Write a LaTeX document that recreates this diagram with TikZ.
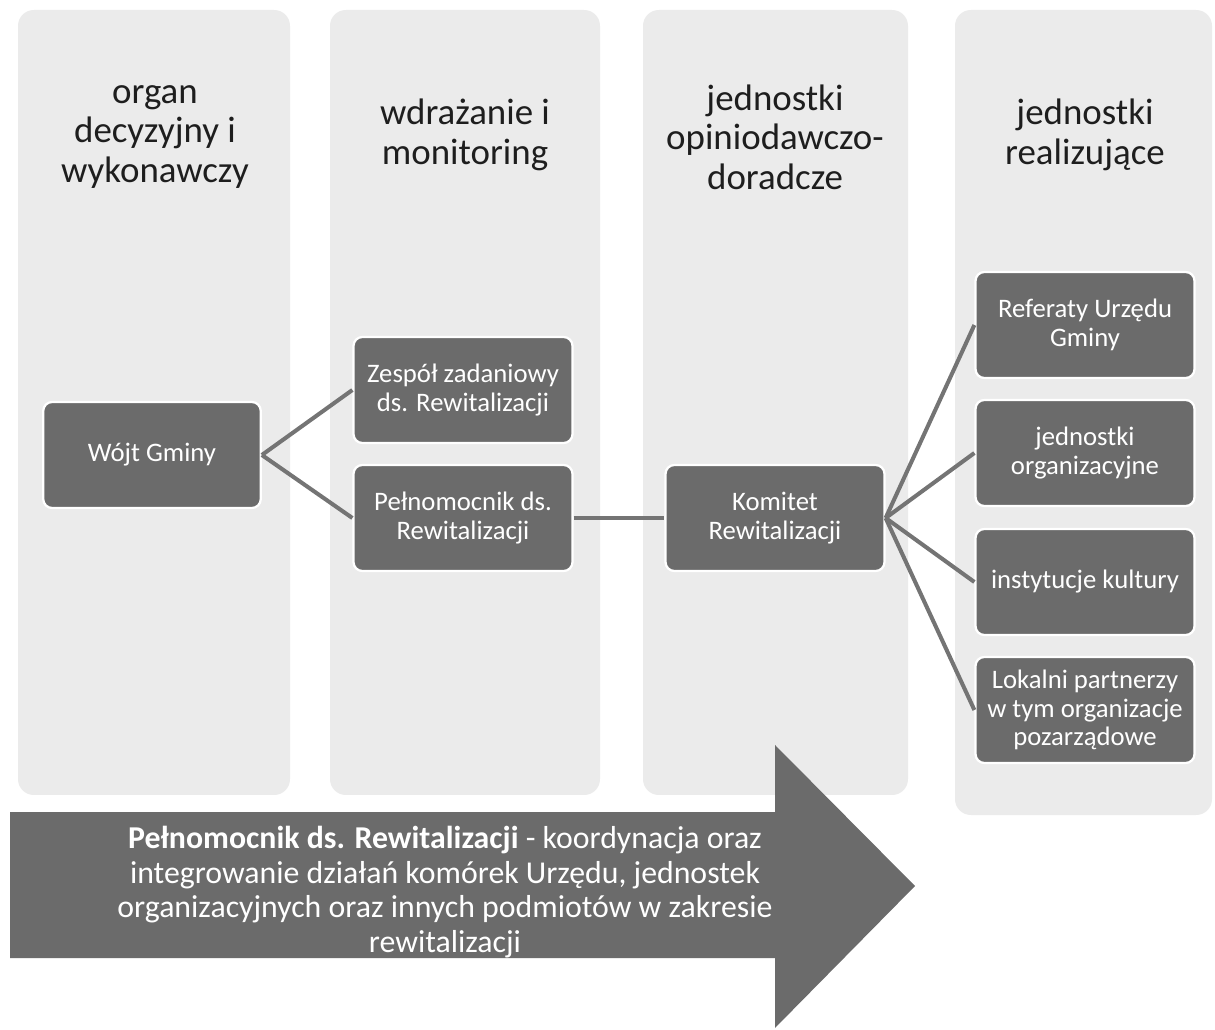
\documentclass[tikz,border=0pt]{standalone}
\usepackage{fontspec}
\setmainfont{Carlito}
\usepackage{tikz}
\usepackage{xcolor}
\definecolor{panelgray}{HTML}{EBEBEB}
\definecolor{boxgray}{HTML}{6B6B6B}
\definecolor{linegray}{HTML}{747474}
\definecolor{headgray}{HTML}{1E1E1E}

\begin{document}
\begin{tikzpicture}[x=0.02cm, y=-0.02cm,
  panel/.style={fill=panelgray, rounded corners=9pt},
  head/.style={align=center, text=headgray, font=\fontsize{21}{22.4}\selectfont},
  unit/.style={rectangle, rounded corners=5pt, fill=boxgray, draw=white, line width=1.3pt,
    minimum width=4.38cm, minimum height=2.12cm, align=center, text=white,
    font=\fontsize{15.2}{16.3}\selectfont},
  link/.style={draw=linegray, line width=2.3pt}]
\useasboundingbox (0,0) rectangle (1215,1030);

% Columns (background)
\fill[panel] (18,10) rectangle (290,795);
\fill[panel] (330,10) rectangle (600,795);
\fill[panel] (643,10) rectangle (908,795);
\fill[panel] (955,10) rectangle (1212,815);

% Column headers
\node[head] (hOrgan) at (155,137) {organ\\decyzyjny i\\wykonawczy};
\node[head] (hWdraz) at (465,135) {wdrażanie i\\monitoring};
\node[head] (hOpin) at (775,137) {jednostki\\opiniodawczo-\\doradcze};
\node[head] (hReal) at (1085,135) {jednostki\\realizujące};

% Boxes
\node[unit, minimum width=4.35cm] (wojt) at (152,455) {Wójt Gminy};
\node[unit] (zespol) at (463,390) {Zespół zadaniowy\\ds. Rewitalizacji};
\node[unit] (pelnom) at (463,518) {Pełnomocnik ds.\\Rewitalizacji};
\node[unit] (komitet) at (775,518) {Komitet\\Rewitalizacji};
\node[unit] (referaty) at (1085,325) {Referaty Urzędu\\Gminy};
\node[unit] (jednostki) at (1085,453) {jednostki\\organizacyjne};
\node[unit] (kultura) at (1085,582) {instytucje kultury};
\node[unit] (partnerzy) at (1085,710) {Lokalni partnerzy\\w tym organizacje\\pozarządowe};

% Connectors
\draw[link] (wojt.east) -- (zespol.west);
\draw[link] (wojt.east) -- (pelnom.west);
\draw[link] (pelnom.east) -- (komitet.west);
\foreach \t in {referaty, jednostki, kultura, partnerzy}
  \draw[link] (komitet.east) -- (\t.west);

% Big arrow
\fill[boxgray] (10,812) -- (775,812) -- (775,745) -- (915,886) -- (775,1028) -- (775,958) -- (10,958) -- cycle;
\node[align=center, text=white, font=\fontsize{18.1}{19.6}\selectfont] (opis) at (445,892)
  {\textbf{Pełnomocnik ds. Rewitalizacji} - koordynacja oraz\\integrowanie działań komórek Urzędu, jednostek\\organizacyjnych oraz innych podmiotów w zakresie\\rewitalizacji};
\end{tikzpicture}
\end{document}
